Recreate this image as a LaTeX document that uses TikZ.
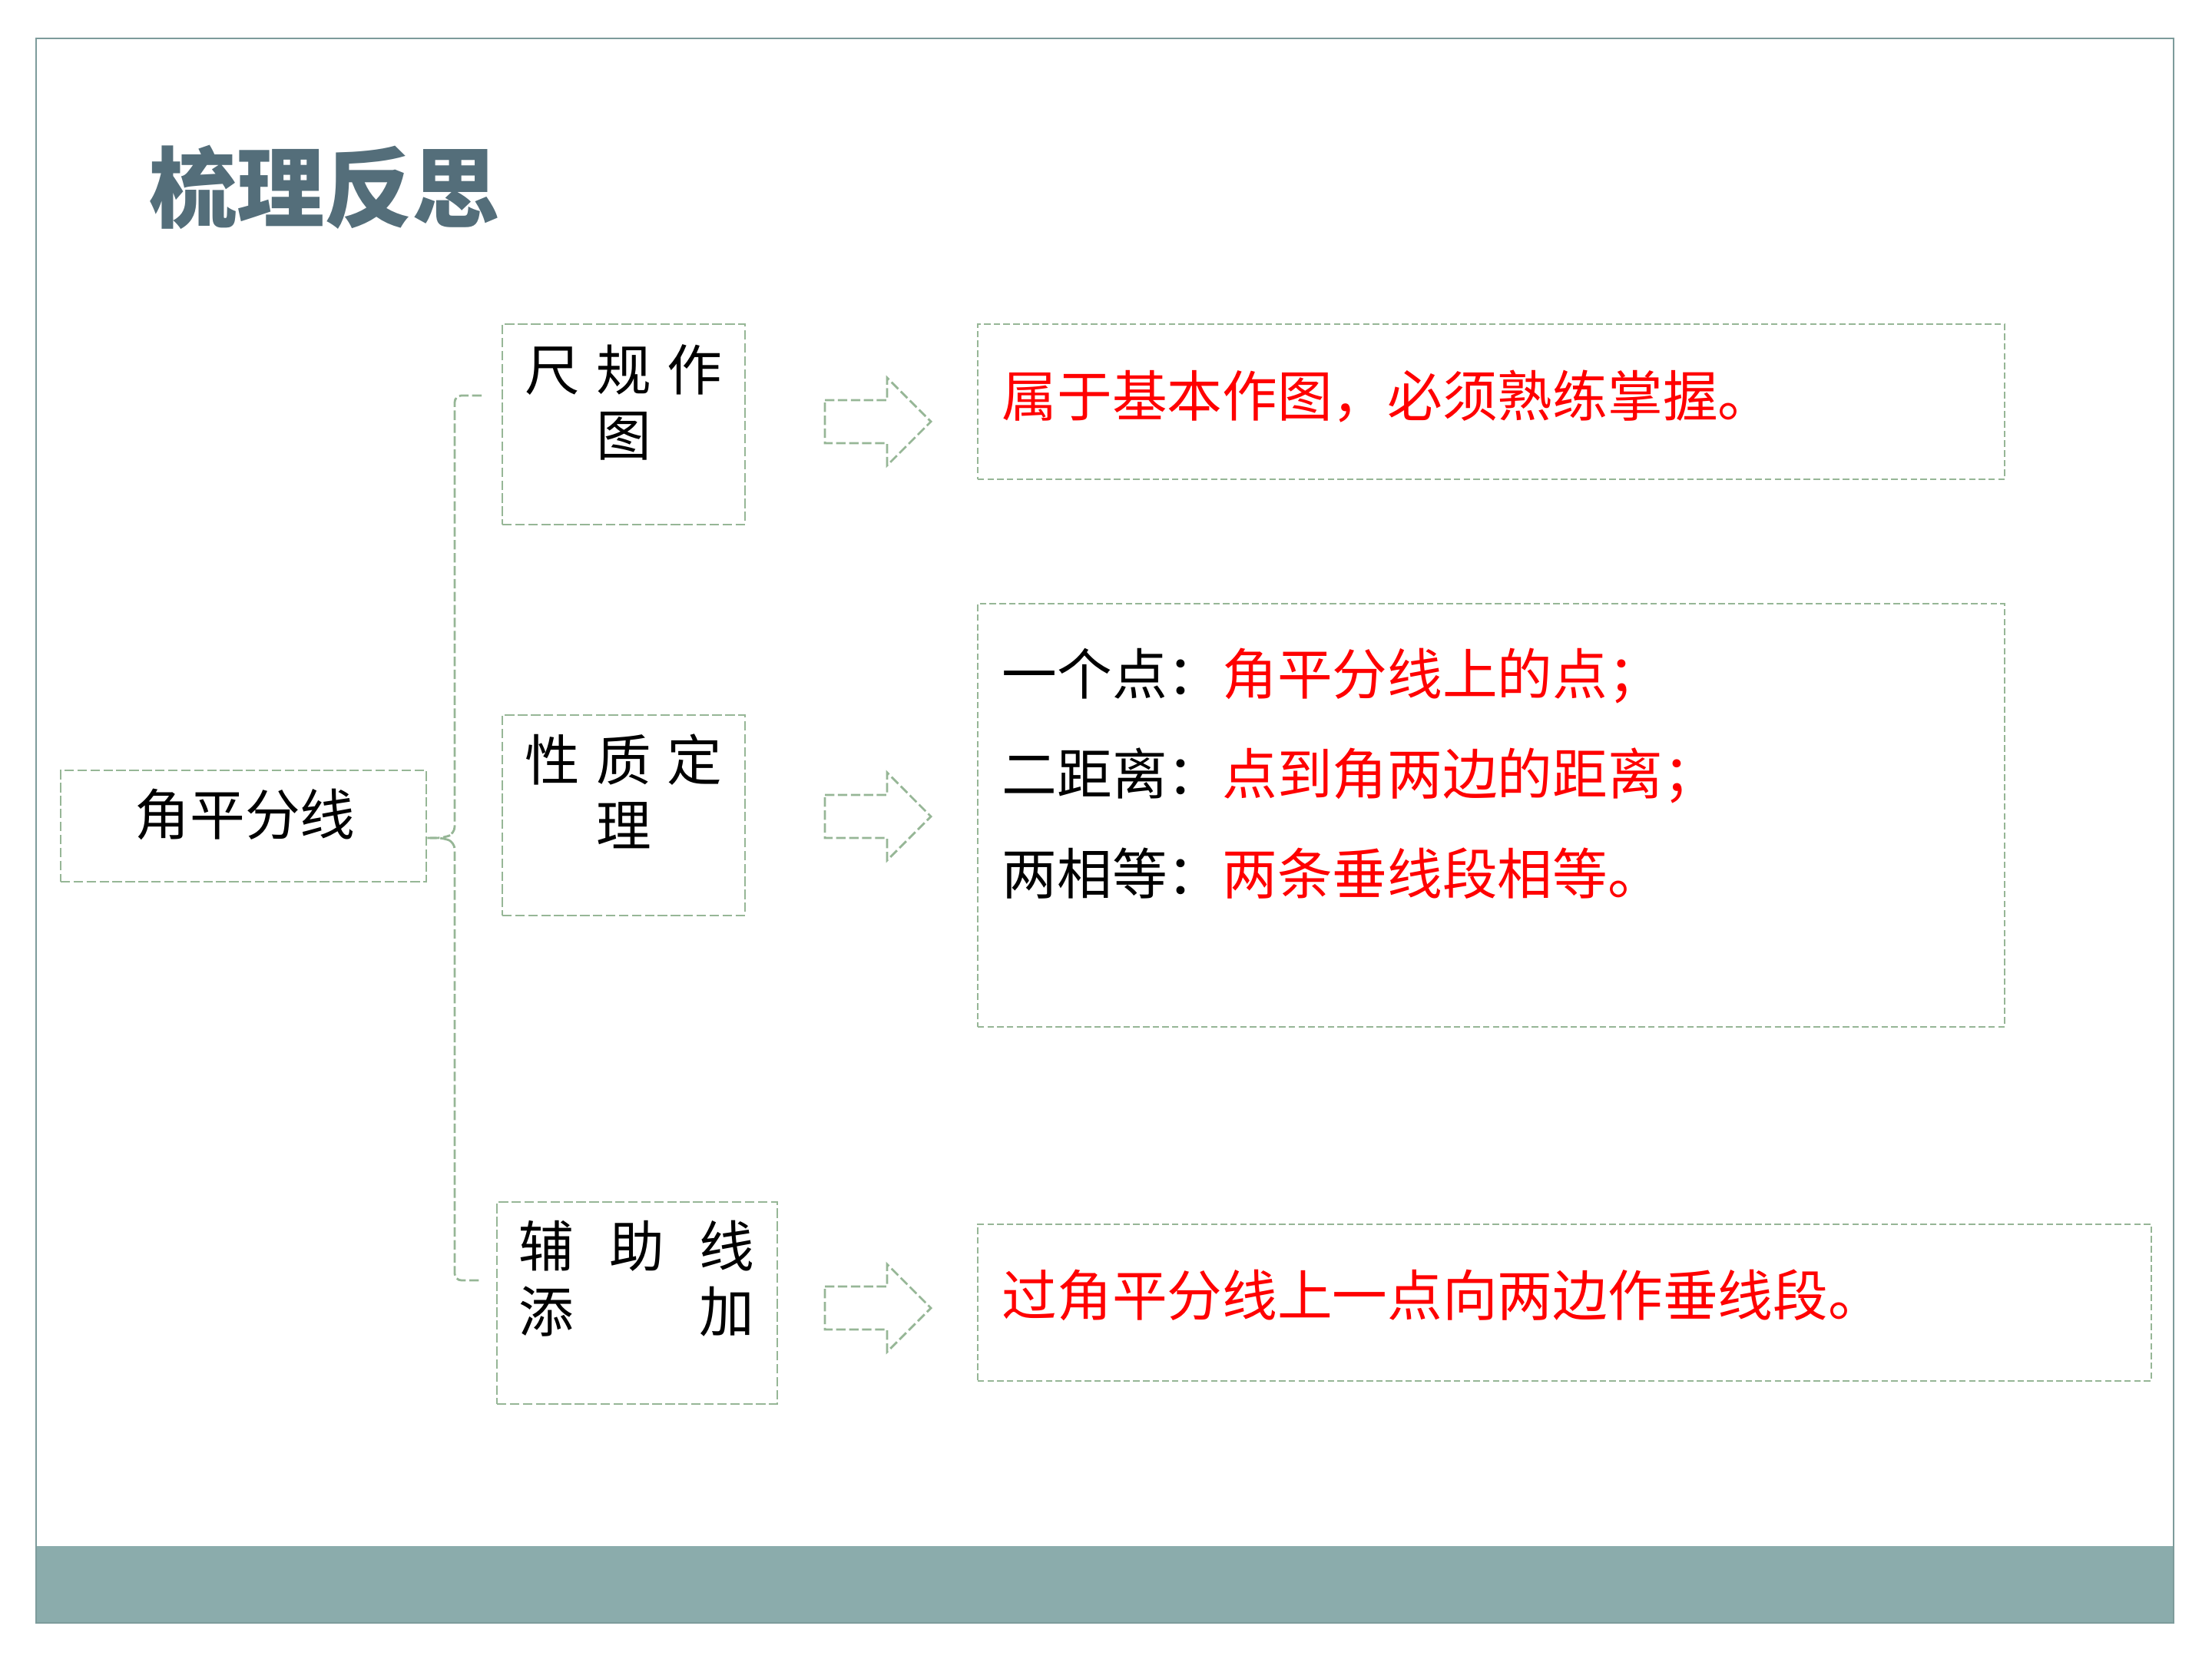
\documentclass[tikz,border=0pt]{standalone}
\usepackage{fontspec}
\usepackage{xcolor}
\usepackage{tikz}
\usetikzlibrary{positioning, calc}
\newfontfamily\cjkfont{Noto Sans CJK SC}
\definecolor{framegray}{RGB}{125,155,155}
\definecolor{barteal}{RGB}{139,172,172}
\definecolor{titleslate}{RGB}{84,110,122}
\definecolor{dashgreen}{RGB}{150,182,150}
\definecolor{keyred}{RGB}{255,0,0}
\newcommand{\spread}[2]{\makebox[#1]{#2}}

\begin{document}
\begin{tikzpicture}[
  font=\cjkfont\fontsize{20.4}{24.2}\selectfont,
  dashline/.style={draw=dashgreen, line width=0.8pt, dash pattern=on 3.5pt off 1.3pt},
  dashbox/.style={dashline, inner sep=0pt},
  topic/.style={dashbox, minimum width=3.16cm, minimum height=2.61cm},
  descbox/.style={draw=dashgreen, line width=0.8pt, dash pattern=on 2.4pt off 1.2pt,
    minimum width=13.37cm, inner sep=0pt},
  txt/.style={inner sep=0pt},
  hint/.style={txt, text=keyred}
]
  \useasboundingbox (0,0) rectangle (28.8,-21.6);
  % slide frame and footer bar
  \fill[barteal] (0.47,-20.13) rectangle (28.30,-21.13);
  \draw[framegray, line width=0.6pt] (0.47,-21.13) rectangle (28.30,-0.50);

  \node[txt, font=\cjkfont\bfseries\fontsize{32.5}{36}\selectfont, text=titleslate] (title) at (4.225,-2.435) {梳理反思};

  % left column
  \node[dashbox, minimum width=4.76cm, minimum height=1.45cm] (root) at (3.17,-10.755) {};
  \node[txt] (rootText) at (3.19,-10.60) {角平分线};

  \node[topic] (chigui) at (8.12,-5.525) {};
  \node[topic] (xingzhi) at (8.12,-10.615) {};
  \node[topic, minimum width=3.65cm, minimum height=2.63cm] (fuzhu) at (8.295,-16.965) {};

  \node[txt, align=center] (chiguiText) at (8.12,-5.235) {\spread{2.57cm}{尺\hfill 规\hfill 作}\\图};
  \node[txt, align=center] (xingzhiText) at (8.12,-10.305) {\spread{2.57cm}{性\hfill 质\hfill 定}\\理};
  \node[txt, align=center] (fuzhuText) at (8.29,-16.65) {\spread{3.07cm}{辅\hfill 助\hfill 线}\\\spread{3.07cm}{添\hfill 加}};

  % brace
  \coordinate (braceTop) at (6.27,-5.15);
  \coordinate (braceBot) at (6.27,-16.67);
  \draw[dashline, rounded corners=2.5pt]
    (braceTop) -- (5.92,-5.15) -- (5.92,-10.85) -- (5.78,-10.91) -- ([yshift=-1.55mm]root.east);
  \draw[dashline, rounded corners=2.5pt]
    ([yshift=-1.55mm]root.east) -- (5.78,-10.91) -- (5.92,-10.97) -- (5.92,-16.67) -- (braceBot);

  % block arrows
  \foreach \y in {-5.49,-10.63,-17.03}
    \draw[dashline]
      (10.74,\y+0.28) -- (11.55,\y+0.28) -- (11.55,\y+0.57) -- (12.12,\y)
      -- (11.55,\y-0.57) -- (11.55,\y-0.28) -- (10.74,\y-0.28) -- cycle;

  % right column
  \node[descbox, minimum height=2.02cm] (desc1) at (19.415,-5.23) {};
  \node[descbox, minimum height=5.51cm] (desc2) at (19.415,-10.615) {};
  \node[descbox, minimum width=15.28cm, minimum height=2.04cm] (desc3) at (20.37,-16.96) {};

  \node[hint, anchor=west] (desc1Text) at (13.04,-5.16) {属于基本作图，必须熟练掌握。};
  \node[txt, anchor=west, align=left, font=\cjkfont\fontsize{20.4}{37.0}\selectfont] (desc2Text) at (13.04,-10.075)
    {一个点：\textcolor{keyred}{角平分线上的点；}\\二距离：\textcolor{keyred}{点到角两边的距离；}\\两相等：\textcolor{keyred}{两条垂线段相等。}};
  \node[hint, anchor=west] (desc3Text) at (13.04,-16.86) {过角平分线上一点向两边作垂线段。};
\end{tikzpicture}
\end{document}
